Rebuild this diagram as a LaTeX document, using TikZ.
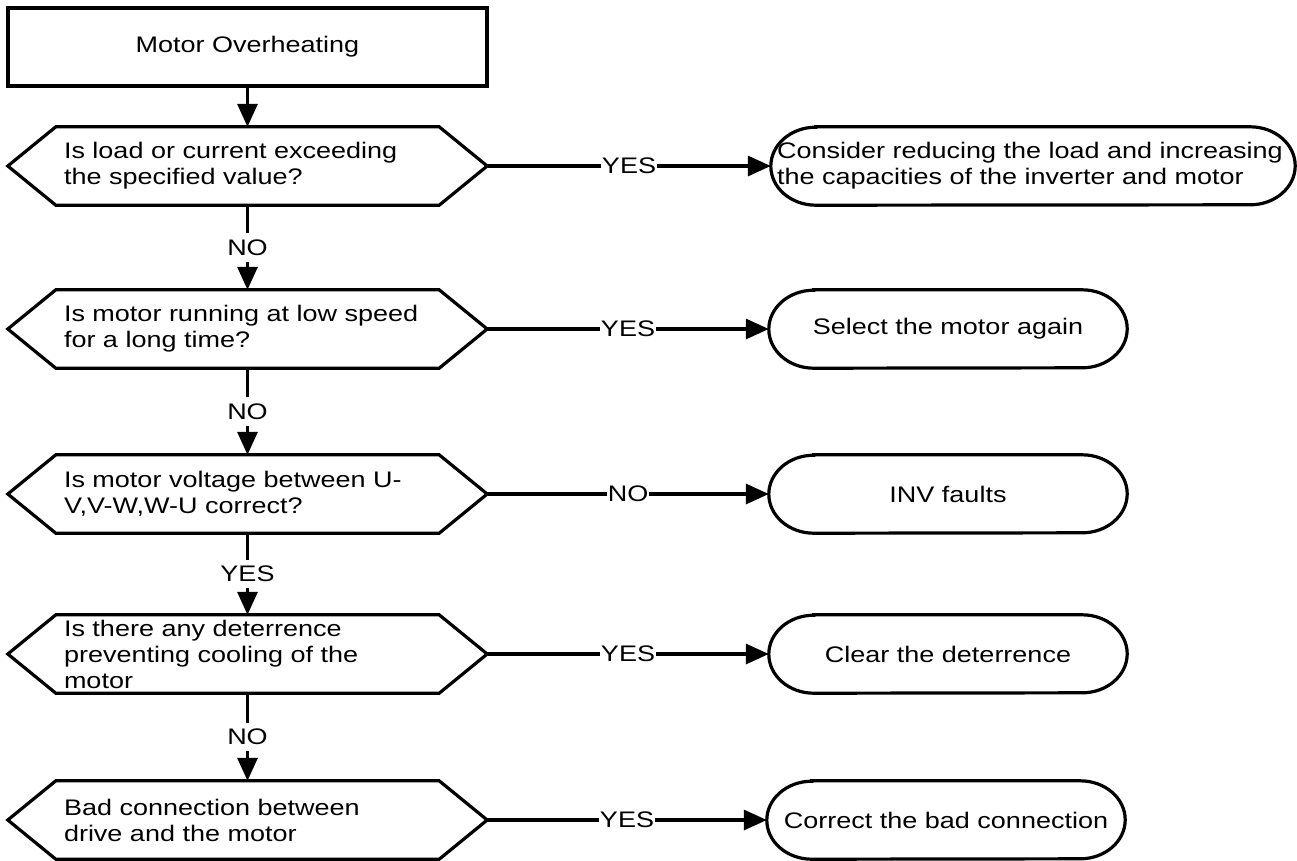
\documentclass[tikz,border=0pt]{standalone}
\usepackage{fontspec}
\setmainfont{Liberation Sans}[FakeStretch=1.2]
\usetikzlibrary{arrows.meta}
\newcommand\hexoutline[1]{\draw[outl] (#1.west) -- ([xshift=48pt]#1.north west) -- ([xshift=-48pt]#1.north east) -- (#1.east) -- ([xshift=-48pt]#1.south east) -- ([xshift=48pt]#1.south west) -- cycle;}
\newcommand\termoutline[1]{\draw[outl] ([xshift=45pt]#1.north west) -- ([xshift=-45pt]#1.north east) arc[start angle=90,end angle=-90,x radius=45pt,y radius=39pt] -- ([xshift=45pt]#1.south west) arc[start angle=270,end angle=90,x radius=45pt,y radius=39pt] -- cycle;}
\begin{document}
\begin{tikzpicture}[x=1pt,y=-1pt,
  every node/.style={font=\fontsize{22.5}{26}\selectfont},
  outl/.style={line width=3.2pt,line join=miter},
  startbox/.style={draw,line width=3.2pt,minimum width=479pt,minimum height=78pt,inner sep=0pt},
  hexq/.style={minimum width=479pt,minimum height=78pt,text width=367pt,inner xsep=56pt,inner ysep=0pt,align=left},
  termq/.style={minimum width=358pt,minimum height=78pt,inner sep=0pt,align=center},
  conn/.style={line width=3.2pt,-{Triangle[length=23pt,width=20pt]}},
  lblv/.style={fill=white,inner xsep=2pt,inner ysep=6.5pt},
  lblh/.style={fill=white,inner xsep=1pt,inner ysep=3pt}]
\fill[white] (0,0) rectangle (1297,860);
\useasboundingbox (0,0) rectangle (1297,860);

\node[startbox] (start) at (247.5,47) {Motor Overheating};

\node[hexq] (q1) at (247.5,166) {Is load or current exceeding\\the specified value?};
\node[hexq] (q2) at (247.5,329) {Is motor running at low speed\\for a long time?};
\node[hexq] (q3) at (247.5,494) {Is motor voltage between U-\\V,V-W,W-U correct?};
\node[hexq] (q4) at (247.5,654) {Is there any deterrence\\preventing cooling of the\\motor};
\node[hexq] (q5) at (247.5,820) {Bad connection between\\drive and the motor};
\foreach \n in {q1,q2,q3,q4,q5}{\hexoutline{\n}}

\node[termq,minimum width=524pt,text width=512pt,inner xsep=6pt,align=left] (t1) at (1033,166) {Consider reducing the load and increasing\\the capacities of the inverter and motor};
\node[termq] (t2) at (948,329) {Select the motor again};
\node[termq] (t3) at (948,494) {INV faults};
\node[termq] (t4) at (948,654) {Clear the deterrence};
\node[termq] (t5) at (946,820) {Correct the bad connection};
\foreach \n in {t1,t2,t3,t4,t5}{\termoutline{\n}}

\draw[conn] (start) -- (q1);
\draw[conn] (q1) -- node[lblv] (l1) {NO} (q2);
\draw[conn] (q2) -- node[lblv] (l2) {NO} (q3);
\draw[conn] (q3) -- node[lblv] (l3) {YES} (q4);
\draw[conn] (q4) -- node[lblv] (l4) {NO} (q5);

\draw[conn] (q1) -- node[lblh] (h1) {YES} (t1);
\draw[conn] (q2) -- node[lblh] (h2) {YES} (t2);
\draw[conn] (q3) -- node[lblh] (h3) {NO} (t3);
\draw[conn] (q4) -- node[lblh] (h4) {YES} (t4);
\draw[conn] (q5) -- node[lblh] (h5) {YES} (t5);
\end{tikzpicture}
\end{document}
